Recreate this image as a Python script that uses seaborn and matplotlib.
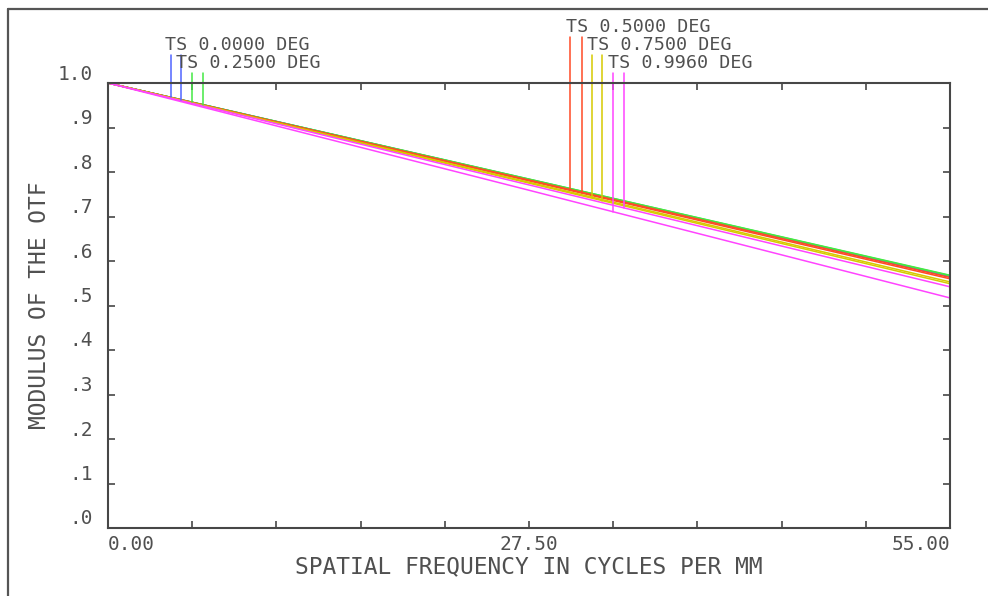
import numpy as np
import pandas as pd
import matplotlib
matplotlib.use("Agg")
import matplotlib.pyplot as plt
import matplotlib.transforms as mtransforms
from matplotlib.lines import Line2D
import seaborn as sns

# ---------------- data ----------------
freqs = [0.0, 27.5, 55.0]
fields = ["0.0000", "0.2500", "0.5000", "0.7500", "0.9960"]
colors = ["#5064ff", "#44e844", "#ff4a26", "#d6ca00", "#ff44ff"]
mtf_T = [
    [1.0, 0.783, 0.565],
    [1.0, 0.784, 0.568],
    [1.0, 0.782, 0.563],
    [1.0, 0.777, 0.553],
    [1.0, 0.759, 0.517],
]
mtf_S = [
    [1.0, 0.783, 0.565],
    [1.0, 0.784, 0.567],
    [1.0, 0.780, 0.560],
    [1.0, 0.775, 0.549],
    [1.0, 0.771, 0.542],
]
# leader-line frequencies (T, S) and top heights
leader_T = [4.12, 5.49, 30.18, 31.60, 32.99]
leader_S = [4.77, 6.21, 30.96, 32.30, 33.70]
leader_top = [1.063, 1.0225, 1.103, 1.063, 1.0225]
label_x = [3.72, 4.44, 29.92, 31.29, 32.66]
label_y = [1.074, 1.034, 1.115, 1.074, 1.034]

x_major = [0.0, 27.5, 55.0]
x_major_labels = ["0.00", "27.50", "55.00"]
x_minor = [5.5, 11.0, 16.5, 22.0, 33.0, 38.5, 44.0, 49.5]
y_ticks = [0.0, 0.1, 0.2, 0.3, 0.4, 0.5, 0.6, 0.7, 0.8, 0.9, 1.0]
y_labels = [".0", ".1", ".2", ".3", ".4", ".5", ".6", ".7", ".8", ".9", "1.0"]

rows = []
for i, f in enumerate(fields):
    for fr, t, s in zip(freqs, mtf_T[i], mtf_S[i]):
        rows.append({"freq": fr, "mtf": t, "series": f + " T"})
        rows.append({"freq": fr, "mtf": s, "series": f + " S"})
df = pd.DataFrame(rows)

# ---------------- style ----------------
sns.set_style("white")
plt.rcParams["font.family"] = ["DejaVu Sans Mono", "DejaVu Sans"]
TXT = "#505050"
AX = "#474747"

fig = plt.figure(figsize=(9.88, 5.96), dpi=100)
ax = fig.add_axes([108 / 988, 68 / 596, 842 / 988, 445 / 596])

palette = {}
for i, f in enumerate(fields):
    palette[f + " T"] = colors[i]
    palette[f + " S"] = colors[i]
order = []
for f in fields:
    order += [f + " T", f + " S"]

sns.lineplot(data=df, x="freq", y="mtf", hue="series", hue_order=order,
             palette=palette, linewidth=1.1, legend=False, ax=ax,
             estimator=None, sort=False)

# leader lines and labels
for i, f in enumerate(fields):
    yt = np.interp(leader_T[i], freqs, mtf_T[i])
    ys = np.interp(leader_S[i], freqs, mtf_S[i])
    ax.plot([leader_T[i], leader_T[i]], [yt, leader_top[i]], color=colors[i],
            lw=1.1, clip_on=False)
    ax.plot([leader_S[i], leader_S[i]], [ys, leader_top[i]], color=colors[i],
            lw=1.1, clip_on=False)
    ax.text(label_x[i], label_y[i], "TS " + f + " DEG", ha="left",
            va="baseline", fontsize=13.2, color=TXT, clip_on=False)

ax.set_xlim(0, 55)
ax.set_ylim(0, 1.0)
ax.set_xticks(x_major)
ax.set_xticklabels(x_major_labels)
ax.set_xticks(x_minor, minor=True)
ax.set_yticks(y_ticks)
ax.set_yticklabels(y_labels)

for sp in ax.spines.values():
    sp.set_color(AX)
    sp.set_linewidth(1.5)
    sp.set_visible(True)

ax.tick_params(axis="both", which="both", direction="in", length=5, width=1.2,
               color=AX, top=True, right=True, bottom=True, left=True)
ax.tick_params(axis="x", which="major", labelsize=14, labelcolor=TXT, pad=5)
ax.tick_params(axis="y", which="major", labelsize=14, labelcolor=TXT, pad=11)

xl = ax.get_xticklabels()
xl[0].set_ha("left")
xl[-1].set_ha("right")
offset = mtransforms.ScaledTranslation(0, 11 / 100, fig.dpi_scale_trans)
for lab in ax.get_yticklabels():
    lab.set_transform(lab.get_transform() + offset)

ax.set_xlabel("SPATIAL FREQUENCY IN CYCLES PER MM", fontsize=16.5, color=TXT,
              labelpad=1)
ax.set_ylabel("MODULUS OF THE OTF", fontsize=16.5, color=TXT, labelpad=5)

# outer frame (left and top)
fig.add_artist(Line2D([7.5 / 988, 7.5 / 988], [0, 1 - 8.5 / 596],
                      transform=fig.transFigure, color="#555555", lw=1.6))
fig.add_artist(Line2D([7.5 / 988, 1], [1 - 8.5 / 596, 1 - 8.5 / 596],
                      transform=fig.transFigure, color="#555555", lw=1.6))

fig.savefig("out.png", dpi=100)
